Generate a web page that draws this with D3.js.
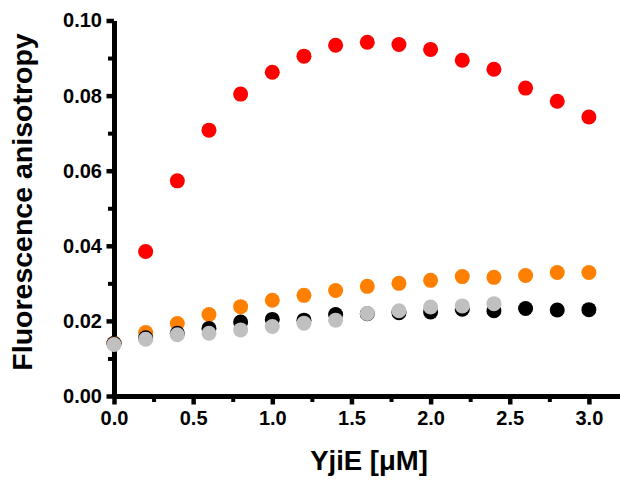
<!DOCTYPE html>
<html><head><meta charset="utf-8">
<script src="https://cdn.jsdelivr.net/npm/d3@7"></script>
<style>body{margin:0;background:#fff}svg{display:block}</style>
</head><body>
<svg id="c" width="620" height="480"></svg>
<script>
const xValues = [0,0.2,0.4,0.6,0.8,1.0,1.2,1.4,1.6,1.8,2.0,2.2,2.4,2.6,2.8,3.0];
const redValues = [0.0140,0.0385,0.0573,0.0708,0.0804,0.0862,0.0905,0.0934,0.0942,0.0936,0.0923,0.0894,0.0870,0.0820,0.0785,0.0743];
const orangeValues = [0.0140,0.0169,0.0193,0.0217,0.0238,0.0255,0.0268,0.0281,0.0292,0.0300,0.0308,0.0318,0.0316,0.0321,0.0329,0.0329];
const blackValues = [0.0140,0.0155,0.0167,0.0180,0.0197,0.0204,0.0202,0.0217,0.0219,0.0222,0.0224,0.0231,0.0227,0.0233,0.0229,0.0230];
const grayValues = [0.0137,0.0151,0.0163,0.0167,0.0176,0.0185,0.0194,0.0202,0.0220,0.0227,0.0237,0.0240,0.0246];
const xTicks = [0,0.5,1.0,1.5,2.0,2.5,3.0];
const xMinorTicks = [0.25,0.75,1.25,1.75,2.25,2.75];
const yTicks = [0,0.02,0.04,0.06,0.08,0.10];
const yMinorTicks = [0.01,0.03,0.05,0.07,0.09];
const xTitle = "YjiE [\u03bcM]";
const yTitle = "Fluorescence anisotropy";

const series = [
  {values: redValues, color: "#ff0000"},
  {values: orangeValues, color: "#ff8000"},
  {values: blackValues, color: "#000000"},
  {values: grayValues, color: "#c0c0c0"}
];

const svg = d3.select("#c");
const font = "'Liberation Sans', Arial, sans-serif";
const x = d3.scaleLinear().domain([0, 3.2]).range([114, 114 + 3.2 * 158.3]);
const y = d3.scaleLinear().domain([0, 0.10]).range([396, 20.5]);

// minor ticks
const xMinor = svg.append("g").attr("transform", `translate(0,${y(0)})`)
  .call(d3.axisBottom(x).tickValues(xMinorTicks).tickSize(6).tickFormat(""));
xMinor.select(".domain").remove();
xMinor.selectAll("line").style("stroke-width", "4px").style("stroke", "#000");

const yMinor = svg.append("g").attr("transform", `translate(${x(0)},0)`)
  .call(d3.axisLeft(y).tickValues(yMinorTicks).tickSize(6).tickFormat(""));
yMinor.select(".domain").remove();
yMinor.selectAll("line").style("stroke-width", "4px").style("stroke", "#000");

const xAxis = svg.append("g").attr("transform", `translate(0,${y(0)})`)
  .call(d3.axisBottom(x).tickValues(xTicks).tickSize(8.5).tickSizeOuter(0).tickPadding(6.5).tickFormat(d3.format(".1f")));
xAxis.select(".domain").style("stroke-width", "5px").style("stroke", "#000");
xAxis.selectAll(".tick line").style("stroke-width", "4.5px").style("stroke", "#000");
xAxis.selectAll("text").attr("font-family", font).attr("font-size", 20).attr("font-weight", "bold").attr("fill", "#000");

const yAxis = svg.append("g").attr("transform", `translate(${x(0)},0)`)
  .call(d3.axisLeft(y).tickValues(yTicks).tickSize(7.5).tickSizeOuter(0).tickPadding(4.5).tickFormat(d3.format(".2f")));
yAxis.select(".domain").style("stroke-width", "5px").style("stroke", "#000");
yAxis.selectAll(".tick line").style("stroke-width", "4.5px").style("stroke", "#000");
yAxis.selectAll("text").attr("font-family", font).attr("font-size", 20).attr("font-weight", "bold").attr("fill", "#000");

// points
series.forEach(s => {
  svg.append("g").selectAll("circle").data(s.values).join("circle")
    .attr("cx", (d, i) => x(xValues[i]))
    .attr("cy", d => y(d))
    .attr("r", 7.5)
    .attr("fill", s.color);
});

svg.append("text").attr("x", 369).attr("y", 470).attr("text-anchor", "middle")
  .attr("font-family", font).attr("font-size", 27.5).attr("font-weight", "bold").text(xTitle);
svg.append("text").attr("transform", "translate(32,202) rotate(-90)").attr("text-anchor", "middle")
  .attr("font-family", font).attr("font-size", 28.5).attr("font-weight", "bold").text(yTitle);
</script>
</body></html>
